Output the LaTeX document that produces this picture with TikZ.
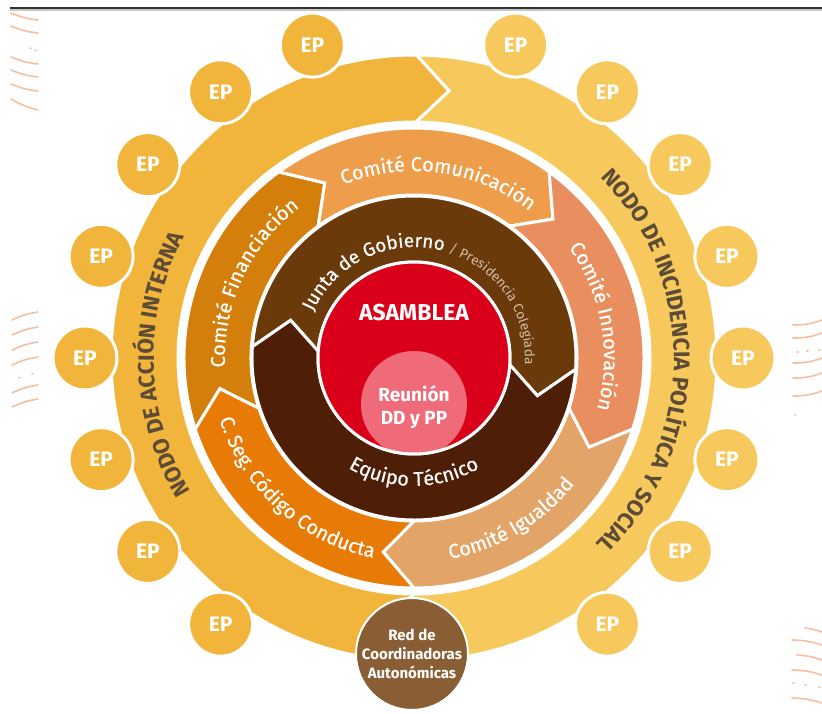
\documentclass[tikz,border=0pt]{standalone}
\usepackage{fontspec}
\setmainfont{Fira Sans}
\newfontfamily\medfont{Fira Sans}[FakeBold=0.45]
\usetikzlibrary{decorations.text}
\definecolor{outerL}{HTML}{F2B53B}
\definecolor{outerR}{HTML}{F7C95D}
\definecolor{cfin}{HTML}{D47E0C}
\definecolor{ccom}{HTML}{EE9E4B}
\definecolor{cinn}{HTML}{E98F5F}
\definecolor{cigu}{HTML}{E3A468}
\definecolor{ccon}{HTML}{E87B06}
\definecolor{cjun}{HTML}{6A3A0B}
\definecolor{cequ}{HTML}{4E1E06}
\definecolor{cred}{HTML}{DA001A}
\definecolor{cpink}{HTML}{F06B79}
\definecolor{crco}{HTML}{8A5E34}
\definecolor{cnodo}{HTML}{5B4B37}
\definecolor{cpres}{HTML}{D2BFAA}
\definecolor{chatch}{HTML}{F5BFA2}

% #1 colour, #2 tail angle, #3 head angle, #4 inner r, #5 outer r, #6 tip depth (deg)
\newcommand\ChevArrow[6]{%
  \path[fill=#1, draw=white, line width=3pt, line join=miter]
    (#2:#5) arc[start angle=#2, end angle=#3, radius=#5pt]
    -- ({#3-#6}:{(#4+#5)/2}) -- (#3:#4)
    arc[start angle=#3, end angle=#2, radius=#4pt]
    -- ({#2-#6}:{(#4+#5)/2}) -- cycle;}
% clockwise text (tops outward): #1 centre angle, #2 baseline radius, #3 format, #4 text
\newcommand\CwText[4]{%
  \path[decorate, decoration={text along path, text align=center, text={|#3|#4}}]
    ({#1+100}:#2) arc[start angle={#1+100}, end angle={#1-100}, radius=#2pt];}
% counter-clockwise text (tops inward)
\newcommand\CcwText[4]{%
  \path[decorate, decoration={text along path, text align=center, text={|#3|#4}}]
    ({#1-100}:#2) arc[start angle={#1-100}, end angle={#1+100}, radius=#2pt];}

\tikzset{
  ep/.style={circle, minimum size=64pt, inner sep=0pt, draw=white, line width=3pt,
    text=white, font=\bfseries\fontsize{21}{21}\selectfont},
  hatch/.style={draw=chatch, line width=1.6pt, line cap=round},
}

\begin{document}
\begin{tikzpicture}[x=1pt,y=1pt]
\path[fill=white] (-414,-355) rectangle (408,358);
\useasboundingbox (-414,-355) rectangle (408,358);

% top rule
\draw[line width=1.5pt, black!22] (-404,348.2) -- (408,348.2);
\draw[line width=2pt, black!80] (-404,350.3) -- (408,350.3);

% outer ring (two halves)
\ChevArrow{outerL}{270}{89.5}{236}{303}{7}
\ChevArrow{outerR}{89.5}{-90}{236}{303}{7}

% committee ring
\ChevArrow{cfin}{198}{126}{163}{230}{9}
\ChevArrow{ccom}{126}{54}{163}{230}{9}
\ChevArrow{cinn}{54}{-18}{163}{230}{9}
\ChevArrow{cigu}{-18}{-90}{163}{230}{9}
\ChevArrow{ccon}{-90}{-162}{163}{230}{9}

% brown ring
\ChevArrow{cjun}{176}{-4}{96}{162}{13}
\ChevArrow{cequ}{-4}{-184}{96}{162}{13}

% red core
\fill[cred] (0,0) circle[radius=96pt];
\begin{scope}
  \clip (0,0) circle[radius=95pt];
  \fill[cpink] (0,-46) circle[radius=53pt];
\end{scope}
\draw[white, line width=3pt] (0,0) circle[radius=96pt];

\node[text=white, font=\bfseries\fontsize{23}{23}\selectfont] (asamblea) at (0,45) {ASAMBLEA};
\node[text=white, align=center, font=\bfseries\fontsize{19}{23}\selectfont] (reunion) at (0,-49) {Reunión\\DD y PP};

% ring texts
\CwText{181.5}{260}{\color{cnodo}\bfseries\fontsize{22.5}{22.5}\selectfont}{NODO DE ACCIÓN INTERNA}
\CwText{-0.8}{260}{\color{cnodo}\bfseries\fontsize{22.5}{22.5}\selectfont}{NODO DE INCIDENCIA POLÍTICA Y SOCIAL}

\CwText{155}{189}{\color{white}\medfont\fontsize{20}{20}\selectfont}{Comité Financiación}
\CwText{82}{187}{\color{white}\medfont\fontsize{20}{20}\selectfont}{Comité Comunicación}
\CwText{10}{190}{\color{white}\medfont\fontsize{20}{20}\selectfont}{Comité Innovación}
\CcwText{-59}{204}{\color{white}\medfont\fontsize{20}{20}\selectfont}{Comité Igualdad}
\CcwText{228}{204}{\color{white}\medfont\fontsize{20}{20}\selectfont}{C. Seg. Código Conducta}

\CwText{76}{111}{\color{white}\medfont\fontsize{19}{19}\selectfont}{Junta de Gobierno |\color{cpres}\fontsize{13.5}{13.5}\selectfont|/ Presidencia Colegiada}
\CcwText{270}{128}{\color{white}\medfont\fontsize{20}{20}\selectfont}{Equipo Técnico}

% EP circles
\foreach \a [count=\i] in {108,126,144,162,180,198,216,234}
  \node[ep, fill=outerL] (epl\i) at (\a:329) {EP};
\foreach \a [count=\i] in {72,54,36,18,0,-18,-36,-54}
  \node[ep, fill=outerR] (epr\i) at (\a:329) {EP};

% Red de Coordinadoras
\node[circle, minimum size=112pt, inner sep=0pt, fill=crco, draw=white, line width=2pt,
  text=white, align=center, font=\bfseries\fontsize{15}{19}\selectfont] (redco) at (-2,-296)
  {Red de\\Coordinadoras\\Autonómicas};

% decorative hatches (image pixel coordinates)
\begin{scope}[shift={(-414,358)}, yscale=-1]
  \foreach \y in {13,26,57,70,84}
    \draw[hatch] (11,\y) to[bend left=8] (38,\y+7);
  \draw[hatch] (11,99) to[bend left=8] (38,110);
  \draw[hatch] (30,48) -- (31,48.5) (35,50) -- (36,50.5);
  \foreach \y in {320,335,350,365,393,407}
    \draw[hatch] (12,\y) to[bend right=8] (38,\y-8);
  \draw[hatch] (19,378) -- (20,377.6) (32,374) -- (33,373.6);
  \foreach \y in {325,338,363,378,396}
    \draw[hatch] (793,\y) to[bend left=10] (822,\y-5);
  \draw[hatch] (797,352) -- (798,352) (807,351) -- (808,351) (819,350) -- (820,350) (795,415) -- (795.5,415);
  \draw[hatch] (805,628) to[bend right=6] (822,632);
  \foreach \y in {640,670,698}
    \draw[hatch] (792,\y) to[bend right=8] (822,\y+5);
  \draw[hatch] (797,655) to[bend right=8] (822,660);
  \draw[hatch] (793,683) -- (794,683.3) (805,685) -- (806,685.3) (819,687) -- (820,687.3);
\end{scope}
\end{tikzpicture}
\end{document}
